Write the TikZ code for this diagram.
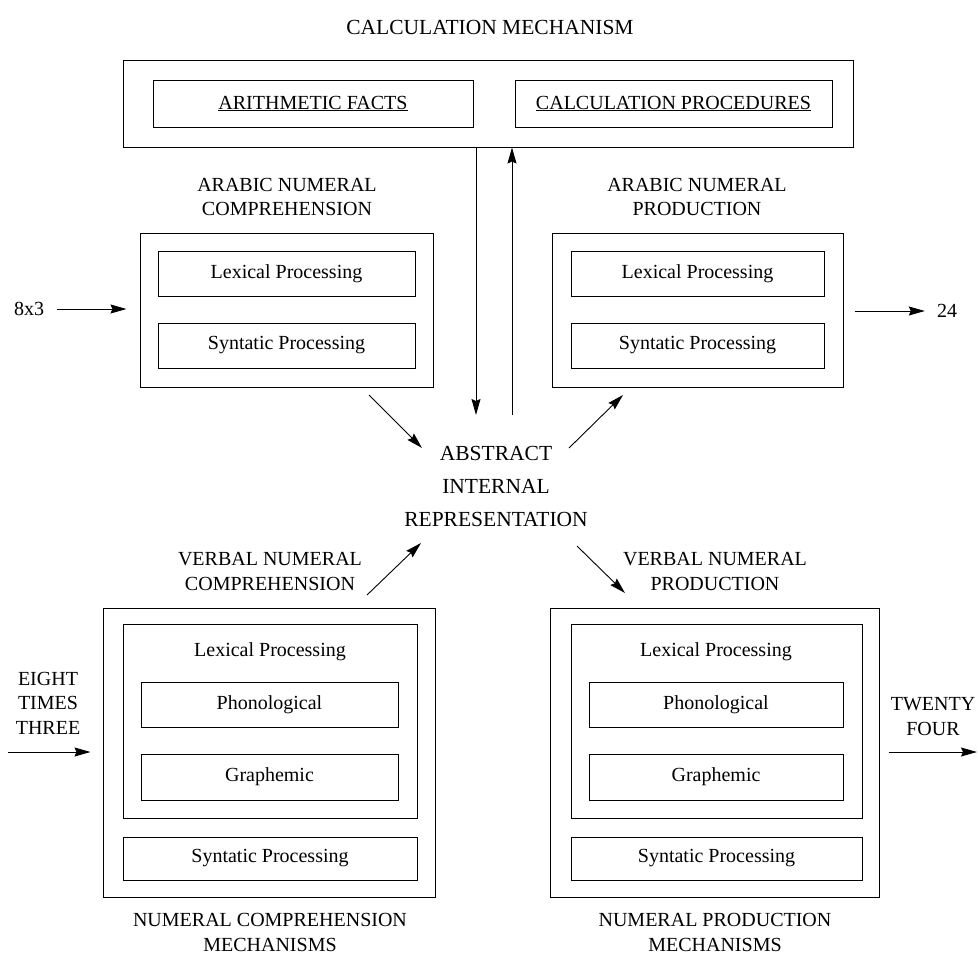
\documentclass[tikz,border=0pt]{standalone}
\usepackage{fontspec}
\setmainfont{Liberation Serif}
\usetikzlibrary{arrows.meta}
\begin{document}
\begin{tikzpicture}[x=1pt,y=-1pt,
  box/.style={draw, line width=1pt, inner sep=0pt, rectangle},
  txt/.style={font=\fontsize{20}{24.5}\selectfont, align=center, inner sep=0pt},
  bigtxt/.style={font=\fontsize{21.5}{33}\selectfont, align=center, inner sep=0pt},
  arr/.style={line width=0.9pt, -{Stealth[length=16pt,width=9pt,inset=2pt]}},
]
\useasboundingbox (0,0) rectangle (978,956);

% calculation mechanism
\node[bigtxt] (title) at (490,27) {CALCULATION MECHANISM};
\node[box, minimum width=730pt, minimum height=87pt] (calc) at (488,103.5) {};
\node[box, txt, minimum width=320pt, minimum height=47pt] (facts) at (313,103.5) {\underline{ARITHMETIC FACTS}};
\node[box, txt, minimum width=317pt, minimum height=47pt] (proc) at (673.5,103.5) {\underline{CALCULATION PROCEDURES}};

% arabic comprehension
\node[txt] (ancl) at (287,197) {ARABIC NUMERAL\\COMPREHENSION};
\node[box, minimum width=293pt, minimum height=154pt] (anc) at (286.5,310) {};
\node[box, txt, minimum width=257pt, minimum height=45pt] (lexa) at (286.5,273.5) {Lexical Processing};
\node[box, txt, minimum width=257pt, minimum height=45pt] (syna) at (286.5,345.5) {Syntatic Processing};

% arabic production
\node[txt] (anpl) at (697,197) {ARABIC NUMERAL\\PRODUCTION};
\node[box, minimum width=291pt, minimum height=154pt] (anp) at (697.5,310) {};
\node[box, txt, minimum width=253pt, minimum height=45pt] (lexb) at (697.5,273.5) {Lexical Processing};
\node[box, txt, minimum width=253pt, minimum height=45pt] (synb) at (697.5,345.5) {Syntatic Processing};

\node[txt] (in1) at (29,309) {8x3};
\node[txt] (out1) at (947,311) {24};
\draw[arr, shorten <=13pt, shorten >=13pt] (in1.east) -- (anc.west |- in1.east);
\draw[arr, shorten <=11pt, shorten >=12pt] (anp.east |- out1.west) -- (out1.west);

% abstract
\node[bigtxt] (air) at (496,486) {ABSTRACT\\INTERNAL\\REPRESENTATION};

\coordinate (dtip) at (476,415);
\coordinate (ubot) at (512,415);
\draw[arr] (calc.south -| dtip) -- (dtip);
\draw[arr] (ubot) -- (calc.south -| ubot);

\coordinate (a1s) at (369,395);
\coordinate (a1e) at (422,448);
\coordinate (a2s) at (569,448);
\coordinate (a2e) at (623,395);
\coordinate (a3s) at (367,595);
\coordinate (a3e) at (421,543);
\coordinate (a4s) at (577,546);
\coordinate (a4e) at (625,593);
\draw[arr] (a1s) -- (a1e);
\draw[arr] (a2s) -- (a2e);
\draw[arr] (a3s) -- (a3e);
\draw[arr] (a4s) -- (a4e);

% verbal comprehension
\node[txt] (vncl) at (270,571.5) {VERBAL NUMERAL\\COMPREHENSION};
\node[box, minimum width=332pt, minimum height=289pt] (vnc) at (269,752.5) {};
\node[box, minimum width=294pt, minimum height=194pt] (lexc) at (270,721) {};
\node[txt] (lexct) at (270,652) {Lexical Processing};
\node[box, txt, minimum width=257pt, minimum height=45pt] (phonc) at (269.5,704.5) {Phonological};
\node[box, txt, minimum width=257pt, minimum height=46pt] (graphc) at (269.5,777) {Graphemic};
\node[box, txt, minimum width=294pt, minimum height=43pt] (sync) at (270,858.5) {Syntatic Processing};
\node[txt] (vncb) at (270,932.5) {NUMERAL COMPREHENSION\\MECHANISMS};

% verbal production
\node[txt] (vnpl) at (715,571.5) {VERBAL NUMERAL\\PRODUCTION};
\node[box, minimum width=329pt, minimum height=289pt] (vnp) at (714.5,752.5) {};
\node[box, minimum width=291pt, minimum height=194pt] (lexd) at (716.5,721) {};
\node[txt] (lexdt) at (716,652) {Lexical Processing};
\node[box, txt, minimum width=254pt, minimum height=45pt] (phond) at (716,704.5) {Phonological};
\node[box, txt, minimum width=254pt, minimum height=46pt] (graphd) at (716,777) {Graphemic};
\node[box, txt, minimum width=291pt, minimum height=43pt] (synd) at (716.5,858.5) {Syntatic Processing};
\node[txt] (vnpb) at (715,932.5) {NUMERAL PRODUCTION\\MECHANISMS};

% verbal in/out
\node[txt] (in2) at (48,703) {EIGHT\\TIMES\\THREE};
\node[txt] (out2) at (933,716.5) {TWENTY\\FOUR};
\coordinate (in2s) at (8,752);
\coordinate (out2e) at (977,752);
\draw[arr, shorten >=12pt] (in2s) -- (vnc.west |- in2s);
\draw[arr, shorten <=9pt] (vnp.east |- out2e) -- (out2e);
\end{tikzpicture}
\end{document}
